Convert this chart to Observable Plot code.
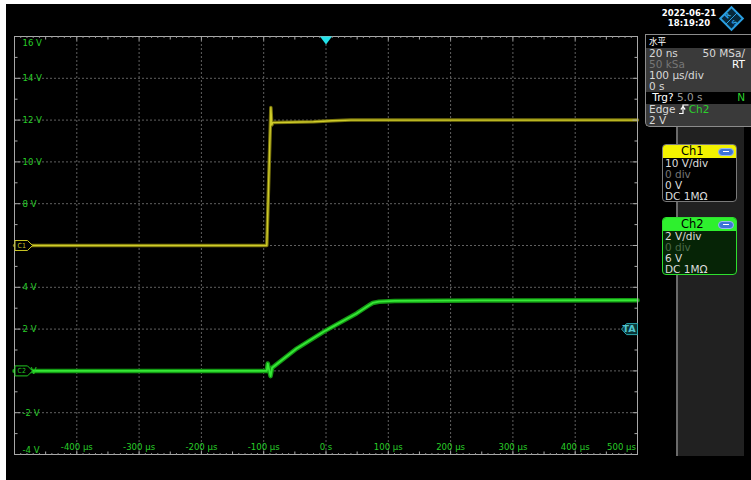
<!DOCTYPE html>
<html><head><meta charset="utf-8">
<script src="https://cdn.jsdelivr.net/npm/d3@7"></script>
<script src="https://cdn.jsdelivr.net/npm/@observablehq/plot@0.6"></script>
<style>
html,body{margin:0;padding:0;background:#fff;}
#wrap{position:relative;width:751px;height:480px;background:#fff;overflow:hidden;}
#scope{position:absolute;left:6px;top:4px;width:745px;height:476px;background:#000;}
#scope svg{display:block;}
.abs{position:absolute;}
.date{left:650px;width:78px;text-align:center;color:#fff;font:bold 8.5px "DejaVu Sans",sans-serif;}
#strip{left:676px;top:36px;width:2px;height:420px;background:#6a6a6a;}
#side{left:678px;top:36px;width:66px;height:420px;background:#212121;}
#hpanel{left:645px;top:34px;width:106px;height:93px;background:#3a3a3a;border:1px solid #8c8c8c;border-right:none;border-bottom-left-radius:5px;box-sizing:border-box;font:10.5px "DejaVu Sans",sans-serif;color:#d8d8d8;overflow:hidden;}
.row{height:11.2px;line-height:11.2px;padding:0 6px 0 3px;display:flex;justify-content:space-between;white-space:nowrap;overflow:hidden;}
.hrow{height:12.6px;padding:0 6px 0 3px;background:#000;position:relative;}
.dark{background:#000;}
.dim{color:#767676;}
.chbox{left:662px;width:75px;height:58px;box-sizing:border-box;border-radius:4px;font:10.5px "DejaVu Sans",sans-serif;color:#dcdcdc;overflow:hidden;}
.chhead{height:13px;line-height:13px;color:#000;padding-left:18px;position:relative;font-size:11.5px;}
.chbody div{height:11px;line-height:11px;padding-left:2px;white-space:nowrap;}
.btn{position:absolute;right:2px;top:2.5px;width:16px;height:8px;border-radius:4px;background:#3d74d8;border:1px solid #9ab8f0;box-sizing:border-box;}
.btn:after{content:"";position:absolute;left:4px;top:2.5px;width:6px;height:1.2px;background:#fff;}
.cjk{font-family:'Noto Sans CJK SC',sans-serif;font-size:8.6px;line-height:12.6px;color:#fff;position:absolute;left:3px;top:0;}
</style></head><body>
<div id="wrap">
<div id="scope"></div>
<div class="abs" id="strip"></div>
<div class="abs" id="side"></div>
<div class="abs date" style="top:8px;">2022-06-21</div>
<div class="abs date" style="top:18px;">18:19:20</div>
<svg class="abs" style="left:718px;top:5px;" width="27" height="27" viewBox="0 0 27 27">
  <rect x="5.5" y="5.5" width="16" height="16" transform="rotate(45 13.5 13.5)" fill="#06283a" stroke="#2a9ee0" stroke-width="2"/>
  <line x1="8" y1="19" x2="19" y2="8" stroke="#2a9ee0" stroke-width="1"/>
  <text x="10" y="13" font-family="DejaVu Sans" font-weight="bold" font-size="7" fill="#2a9ee0" text-anchor="middle" transform="rotate(-45 10 11)">R</text>
  <text x="17" y="20" font-family="DejaVu Sans" font-weight="bold" font-size="7" fill="#2a9ee0" text-anchor="middle" transform="rotate(-45 17 18)">S</text>
</svg>
<div class="abs" id="hpanel">
  <div class="hrow"><span class="cjk">水平</span></div>
  <div class="row"><span>20 ns</span><span>50 MSa/</span></div>
  <div class="row"><span class="dim">50 kSa</span><span style="color:#fff">RT</span></div>
  <div class="row"><span>100 µs/div</span></div>
  <div class="row"><span>0 s</span></div>
  <div class="row dark"><span><span style="color:#fff">&nbsp;Trg?</span><span style="color:#9a9a9a"> 5.0 s</span></span><span style="color:#2cd02c">N</span></div>
  <div class="row"><span>Edge <svg width="10" height="10" viewBox="0 0 10 10" style="vertical-align:-1px"><path d="M0,9.5H4V1H9.5" fill="none" stroke="#fff" stroke-width="1.2"/><path d="M1.8,5.5L4,2.8L6.2,5.5" fill="none" stroke="#fff" stroke-width="1.2"/></svg><span style="color:#2cd02c">Ch2</span></span></div>
  <div class="row"><span>2 V</span></div>
</div>
<div class="abs chbox" style="top:144px;background:#000;border:1px solid #7a7a7a;">
  <div class="chhead" style="background:#f2f200;">Ch1<div class="btn"></div></div>
  <div class="chbody"><div>10 V/div</div><div class="dim">0 div</div><div>0 V</div><div>DC 1MΩ</div></div>
</div>
<div class="abs chbox" style="top:217px;background:#062406;border:1.5px solid #2ee02e;">
  <div class="chhead" style="background:#2ef02e;">Ch2<div class="btn"></div></div>
  <div class="chbody"><div>2 V/div</div><div style="color:#4a6a4a">0 div</div><div>6 V</div><div>DC 1MΩ</div></div>
</div>
</div>
<script>
// ---- tick positions and labels (screen grid is Ch2: 2 V/div, 6 V offset; time 100 µs/div) ----
const timeTicks = [-400, -300, -200, -100, 0, 100, 200, 300, 400, 500];
const timeTickLabels = ["-400 µs", "-300 µs", "-200 µs", "-100 µs", "0 s", "100 µs", "200 µs", "300 µs", "400 µs", "500 µs"];
const voltTicks = [16, 14, 12, 10, 8, 4, 2, 0, -2, -4];
const voltTickLabels = ["16 V", "14 V", "12 V", "10 V", "8 V", "4 V", "2 V", "0 V", "-2 V", "-4 V"];
const gridTimes = [-400, -300, -200, -100, 0, 100, 200, 300, 400];
const gridVolts = [14, 12, 10, 8, 6, 4, 2, 0, -2];

// ---- Ch1 (yellow), 10 V/div, 0 V position at screen centre ----
const ch1Time  = [-500, -95, -88.5, -87, -85.5, -60, -20, 10, 40, 100, 500];
const ch1Volts = [0, 0, 33, 28.8, 29.4, 29.5, 29.6, 29.85, 30, 30, 30];
// ---- Ch2 (green), 2 V/div ----
const ch2Time  = [-500, -95, -93.5, -89, -86.5, -47, 0, 49, 68, 75, 85, 110, 250, 500];
const ch2Volts = [0, 0, 0.35, -0.25, 0.15, 1.07, 1.94, 2.75, 3.12, 3.25, 3.31, 3.35, 3.37, 3.38];

// markers
const ch1Marker = [{label: "C1", volts: 0}];
const ch2Marker = [{label: "C2", volts: 0}];
const trigLevel = [{label: "TA", volts: 2}];
const trigTime = [0];

// Ch1 volts shown on the common screen grid: 10 V/div vs 2 V/div, zero at screen centre (6)
const ch1Data = ch1Time.map((t, i) => ({t, v: 6 + ch1Volts[i] / 5}));
const ch2Data = ch2Time.map((t, i) => ({t, v: ch2Volts[i]}));

const seg = (dx, dy) => ({draw(ctx) { ctx.moveTo(0, 0); ctx.lineTo(dx, dy); }});
const arrowR = {draw(ctx) { ctx.moveTo(0.5, -5); ctx.lineTo(13, -5); ctx.lineTo(18, 0); ctx.lineTo(13, 5); ctx.lineTo(0.5, 5); ctx.closePath(); }};
const arrowL = {draw(ctx) { ctx.moveTo(0, -5.5); ctx.lineTo(-11, -5.5); ctx.lineTo(-16, 0); ctx.lineTo(-11, 5.5); ctx.lineTo(0, 5.5); ctx.closePath(); }};
const trigTri = {draw(ctx) { ctx.moveTo(-6, 0); ctx.lineTo(6, 0); ctx.lineTo(0, 8); ctx.closePath(); }};

const xMinor = d3.range(-500, 501, 10).filter(d => d % 50 !== 0);
const xMid = d3.range(-450, 500, 100);
const xMajor = d3.range(-400, 401, 100);
const yMid = d3.range(-3, 16, 2);
const yMajor = d3.range(-2, 15, 2);

const tickColor = "#a8a8a8";
const labelFont = "'Liberation Sans Narrow','DejaVu Sans Condensed','Liberation Sans',sans-serif";
const green = "#28cc28";

const tickMarks = (vals, xf, yf, sym, col) => Plot.dot(vals, {x: xf, y: yf, symbol: sym, stroke: col, fill: "none", strokeWidth: 1});
const lbl = (vals, opts) => Plot.text(vals, {fill: green, fontSize: 9.5, fontFamily: labelFont, ariaLabel: "boxed", ...opts});

const plot = Plot.plot({
  width: 745, height: 476,
  marginLeft: 8, marginRight: 114, marginTop: 32, marginBottom: 26,
  x: {domain: [-500, 500], axis: null},
  y: {domain: [-4, 16], axis: null},
  style: {background: "#000", overflow: "visible"},
  marks: [
    Plot.ruleX(gridTimes, {stroke: "#606060", strokeDasharray: "2,2"}),
    Plot.ruleY(gridVolts, {stroke: "#606060", strokeDasharray: "2,2"}),
    Plot.line(ch1Data, {x: "t", y: "v", stroke: "#77720c", strokeWidth: 3.5}),
    Plot.line(ch1Data, {x: "t", y: "v", stroke: "#cfcc2a", strokeWidth: 1.4}),
    Plot.line(ch2Data, {x: "t", y: "v", stroke: "#149a14", strokeWidth: 4.5}),
    Plot.line(ch2Data, {x: "t", y: "v", stroke: "#36e836", strokeWidth: 1.8}),
    Plot.frame({stroke: tickColor}),
    // edge ticks
    tickMarks(xMinor, d => d, () => -4, seg(0, -1.5), "#8a8a8a"),
    tickMarks(xMid, d => d, () => -4, seg(0, -3), tickColor),
    tickMarks(xMajor, d => d, () => -4, seg(0, -4), tickColor),
    tickMarks(xMinor, d => d, () => 16, seg(0, 1.5), "#8a8a8a"),
    tickMarks(xMid, d => d, () => 16, seg(0, 3), tickColor),
    tickMarks(xMajor, d => d, () => 16, seg(0, 4), tickColor),
    tickMarks(yMid, () => -500, d => d, seg(3, 0), tickColor),
    tickMarks(yMajor, () => -500, d => d, seg(6, 0), tickColor),
    tickMarks(yMid, () => 500, d => d, seg(-3, 0), tickColor),
    tickMarks(yMajor, () => 500, d => d, seg(-5, 0), tickColor),
    // tick labels
    lbl(voltTicks.filter(v => v < 16 && v > -4), {x: () => -500, y: d => d, text: d => voltTickLabels[voltTicks.indexOf(d)], dx: 8, textAnchor: "start"}),
    lbl([16], {x: () => -500, y: d => d, text: d => voltTickLabels[voltTicks.indexOf(d)], dx: 8, dy: 6, textAnchor: "start"}),
    lbl([-4], {x: () => -500, y: d => d, text: d => voltTickLabels[voltTicks.indexOf(d)], dx: 8, dy: -5, textAnchor: "start"}),
    lbl(timeTicks.filter(t => t < 500), {x: d => d, y: () => -4, text: d => timeTickLabels[timeTicks.indexOf(d)], dy: -8}),
    lbl([500], {x: d => d, y: () => -4, text: d => timeTickLabels[timeTicks.indexOf(d)], dy: -8, dx: -1.5, textAnchor: "end"}),
    // channel / trigger markers
    Plot.dot(ch1Marker, {x: () => -500, y: d => 6 + d.volts / 5, symbol: arrowR, stroke: "#c8c424", fill: "#000", strokeWidth: 1}),
    Plot.text(ch1Marker, {x: () => -500, y: d => 6 + d.volts / 5, text: "label", dx: 3, textAnchor: "start", fill: "#c8c424", fontSize: 7, fontFamily: labelFont}),
    Plot.dot(ch2Marker, {x: () => -500, y: d => d.volts, symbol: arrowR, stroke: "#22c822", fill: "#000", strokeWidth: 1}),
    Plot.text(ch2Marker, {x: () => -500, y: d => d.volts, text: "label", dx: 3, textAnchor: "start", fill: "#22c822", fontSize: 7, fontFamily: labelFont}),
    Plot.dot(trigLevel, {x: () => 500, y: "volts", symbol: arrowL, stroke: "#2aa8b0", fill: "#0a3436", strokeWidth: 1}),
    Plot.text(trigLevel, {x: () => 500, y: "volts", text: "label", dx: -2, textAnchor: "end", fill: "#50c4cc", fontSize: 9.5, fontWeight: "bold", fontFamily: "'DejaVu Sans',sans-serif"}),
    Plot.dot(trigTime, {x: d => d, y: () => 16, symbol: trigTri, fill: "#22e2ea", stroke: "none"})
  ]
});
document.getElementById("scope").appendChild(plot);

// dark boxes behind the tick labels, sized from the rendered text
plot.querySelectorAll('g[aria-label="boxed"] text').forEach(t => {
  const b = t.getBBox();
  const r = document.createElementNS("http://www.w3.org/2000/svg", "rect");
  r.setAttribute("x", b.x - 1.5); r.setAttribute("y", b.y + 0.5);
  r.setAttribute("width", b.width + 3); r.setAttribute("height", b.height);
  r.setAttribute("fill", "#2a2a2a");
  if (t.getAttribute("transform")) r.setAttribute("transform", t.getAttribute("transform"));
  t.parentNode.insertBefore(r, t);
});
</script>
</body></html>
